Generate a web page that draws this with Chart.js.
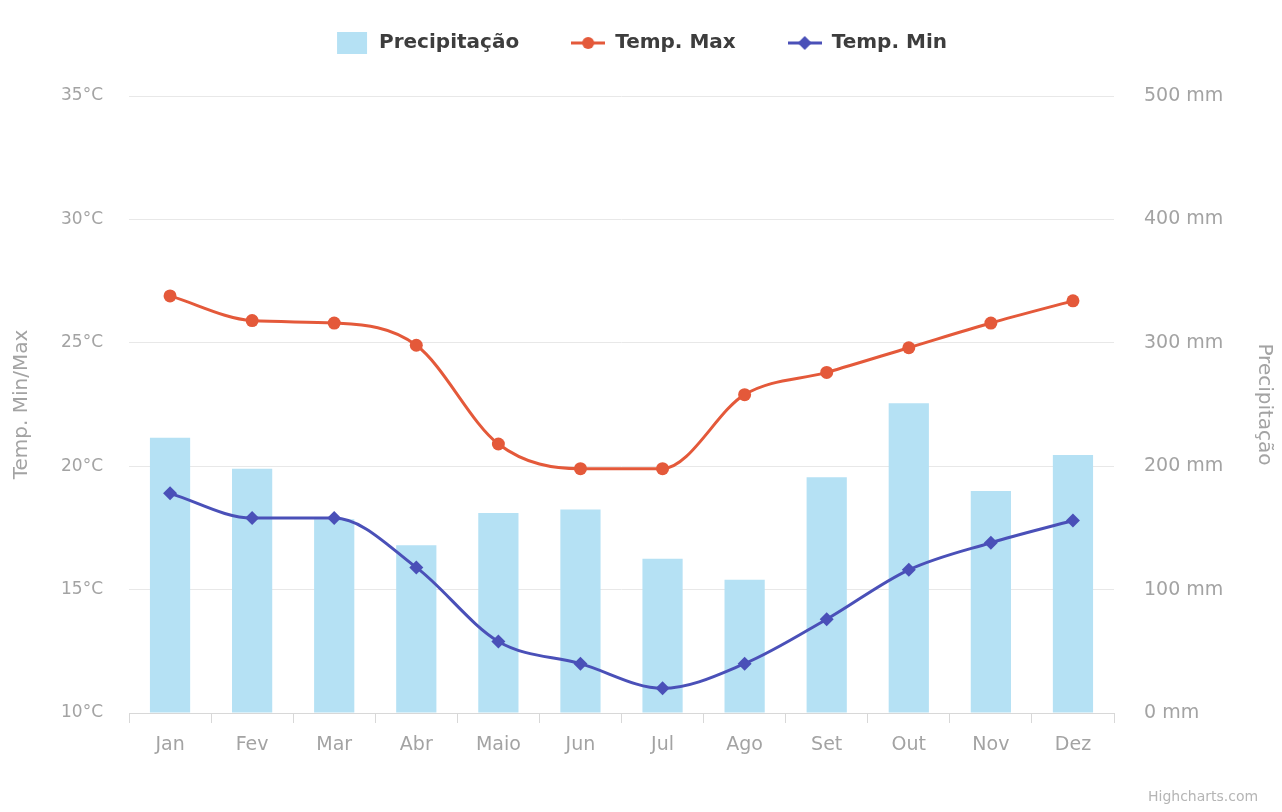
<!DOCTYPE html>
<html>
<head>
<meta charset="utf-8">
<script src="https://cdn.jsdelivr.net/npm/chart.js@4.4.0/dist/chart.umd.min.js"></script>
<style>
  html, body { margin: 0; padding: 0; background: #fff; }
</style>
</head>
<body>
<canvas id="climaChart" width="1282" height="812"></canvas>

<script>
// dados do gráfico
var meses = ['Jan', 'Fev', 'Mar', 'Abr', 'Maio', 'Jun', 'Jul', 'Ago', 'Set', 'Out', 'Nov', 'Dez'];
var precipitacao = [223, 198, 157, 136, 162, 165, 125, 108, 191, 251, 180, 209];
var tempMax = [26.9, 25.9, 25.8, 24.9, 20.9, 19.9, 19.9, 22.9, 23.8, 24.8, 25.8, 26.7];
var tempMin = [18.9, 17.9, 17.9, 15.9, 12.9, 12.0, 11.0, 12.0, 13.8, 15.8, 16.9, 17.8];

var corBarra = '#b5e1f4';
var corMax = '#e4593a';
var corMin = '#4a50b8';
var corTexto = '#a3a3a3';
var fonte = '"DejaVu Sans", Verdana, sans-serif';

function iconeLegenda(tipo, cor)
{
	var c = document.createElement('canvas');
	c.width = 34;
	c.height = 24;
	var ctx = c.getContext('2d');
	ctx.fillStyle = cor;
	ctx.strokeStyle = cor;
	if (tipo == 'barra') {
		ctx.fillRect(2, 1, 30, 22);
		return c;
	}
	ctx.lineWidth = 3;
	ctx.beginPath();
	ctx.moveTo(0, 12);
	ctx.lineTo(34, 12);
	ctx.stroke();
	ctx.beginPath();
	if (tipo == 'circulo') {
		ctx.arc(17, 12, 6, 0, Math.PI * 2);
	} else {
		ctx.moveTo(17, 5); ctx.lineTo(24, 12); ctx.lineTo(17, 19); ctx.lineTo(10, 12);
		ctx.closePath();
	}
	ctx.fill();
	return c;
}

var icones = [iconeLegenda('barra', corBarra), iconeLegenda('circulo', corMax), iconeLegenda('losango', corMin)];

// legenda mais alta e desenhada um pouco acima
var margemLegenda = {
	id: 'margemLegenda',
	beforeInit: function(chart) {
		var fitOriginal = chart.legend.fit;
		chart.legend.fit = function() {
			fitOriginal.bind(chart.legend)();
			this.height += 14;
		};
		var drawOriginal = chart.legend.draw;
		chart.legend.draw = function() {
			chart.ctx.save();
			chart.ctx.translate(0, -19);
			drawOriginal.call(chart.legend);
			chart.ctx.restore();
		};
	}
};

var creditos = {
	id: 'creditos',
	afterDraw: function(chart) {
		var ctx = chart.ctx;
		ctx.save();
		ctx.font = '14px ' + fonte;
		ctx.fillStyle = '#b5b5b5';
		ctx.textAlign = 'left';
		ctx.textBaseline = 'middle';
		ctx.fillText('Highcharts.com', 1148, 797);
		ctx.restore();
	}
};

var cfg = {
	data: {
		labels: meses,
		datasets: [
			{
				type: 'bar',
				label: 'Precipitação',
				data: precipitacao,
				yAxisID: 'yPrec',
				backgroundColor: corBarra,
				categoryPercentage: 1.0,
				barPercentage: 0.49,
				order: 3
			},
			{
				type: 'line',
				label: 'Temp. Max',
				data: tempMax,
				yAxisID: 'yTemp',
				borderColor: corMax,
				backgroundColor: corMax,
				borderWidth: 3,
				pointRadius: 6.5,
				pointStyle: 'circle',
				pointBorderWidth: 0,
				cubicInterpolationMode: 'monotone',
				order: 1
			},
			{
				type: 'line',
				label: 'Temp. Min',
				data: tempMin,
				yAxisID: 'yTemp',
				borderColor: corMin,
				backgroundColor: corMin,
				borderWidth: 3,
				pointRadius: 7,
				pointStyle: 'rectRot',
				pointBorderWidth: 0,
				cubicInterpolationMode: 'monotone',
				order: 2
			}
		]
	},
	options: {
		responsive: false,
		animation: false,
		devicePixelRatio: 1,
		layout: { padding: { top: 0, bottom: 0, left: 0, right: 0 } },
		plugins: {
			tooltip: { enabled: false },
			legend: {
				position: 'top',
				labels: {
					usePointStyle: true,
					pointStyleWidth: 34,
					padding: 52,
					color: '#3d3d3d',
					font: { family: fonte, size: 20, weight: 'bold' },
					generateLabels: function(chart) {
						return chart.data.datasets.map(function(ds, i) {
							return {
								text: ds.label,
								pointStyle: icones[i],
								fillStyle: 'transparent',
								strokeStyle: 'transparent',
								lineWidth: 0,
								fontColor: '#3d3d3d',
								datasetIndex: i
							};
						});
					}
				}
			}
		},
		scales: {
			x: {
				offset: true,
				grid: { offset: true, drawOnChartArea: false, tickLength: 10, color: '#d8d8d8' },
				border: { color: '#d8d8d8' },
				ticks: { color: corTexto, padding: 11, font: { family: fonte, size: 19 } },
				afterFit: function(s) { s.height = 99; }
			},
			yTemp: {
				position: 'left',
				min: 10,
				max: 35,
				ticks: {
					stepSize: 5,
					color: corTexto,
					padding: 26,
					font: { family: fonte, size: 17 },
					callback: function(v) { return v + '°C'; }
				},
				grid: { color: '#e8e8e8', drawTicks: false },
				border: { display: false },
				title: { display: true, text: 'Temp. Min/Max', color: corTexto, font: { family: fonte, size: 20 }, padding: { top: 10, bottom: 0 } },
				afterFit: function(s) { s.width = 129; }
			},
			yPrec: {
				position: 'right',
				min: 0,
				max: 500,
				ticks: {
					stepSize: 100,
					color: corTexto,
					padding: 30,
					font: { family: fonte, size: 19 },
					callback: function(v) { return v + ' mm'; }
				},
				grid: { drawOnChartArea: false, drawTicks: false },
				border: { display: false },
				title: { display: true, text: 'Precipitação', color: corTexto, font: { family: fonte, size: 20 }, padding: 6 },
				afterFit: function(s) { s.width = 168; }
			}
		}
	},
	plugins: [margemLegenda, creditos]
};

var clima_chart = new Chart(document.getElementById('climaChart'), cfg);
</script>
</body>
</html>
